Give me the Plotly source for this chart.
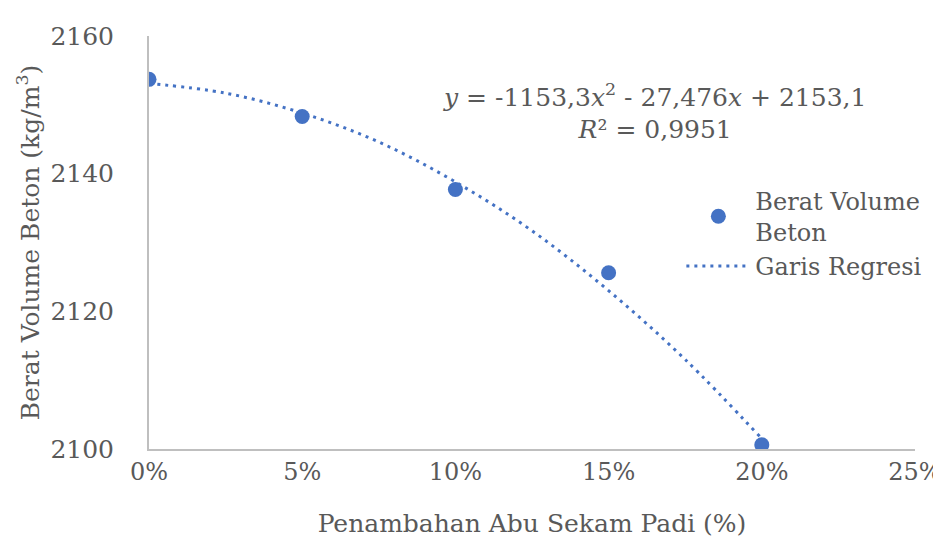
import plotly.graph_objects as go

# data
abu_sekam = [0.00, 0.05, 0.10, 0.15, 0.20]
berat_volume = [2153.7, 2148.3, 2137.7, 2125.6, 2100.6]

# trendline
reg_x = [0.0, 0.025, 0.05, 0.075, 0.10, 0.125, 0.15, 0.175, 0.20]
reg_y = [2153.1, 2151.7, 2148.8, 2144.6, 2138.8, 2131.7, 2123.0, 2113.0, 2101.5]

x_ticks = [0.0, 0.05, 0.10, 0.15, 0.20, 0.25]
x_labels = ["0%", "5%", "10%", "15%", "20%", "25%"]
y_ticks = [2100, 2120, 2140, 2160]

blue = "#4472C4"
gray = "#595959"
font = "DejaVu Serif"
fs = 25

fig = go.Figure()

fig.add_trace(go.Scatter(
    x=abu_sekam, y=berat_volume, mode="markers",
    name="Berat Volume<br>Beton",
    marker=dict(color=blue, size=15),
))

fig.add_trace(go.Scatter(
    x=reg_x, y=reg_y, mode="lines",
    name="Garis Regresi",
    line=dict(color=blue, width=3, dash="3px,5px", shape="spline"),
))

fig.add_annotation(
    x=0.165, y=2149.0, xref="x", yref="y",
    text="<i>y</i> = -1153,3<i>x</i><sup>2</sup> - 27,476<i>x</i> + 2153,1<br><i>R</i>² = 0,9951",
    showarrow=False, align="center",
    font=dict(family=font, size=25, color=gray),
)

fig.update_layout(
    width=941, height=538,
    margin=dict(l=141, r=34, t=28, b=97, autoexpand=False),
    paper_bgcolor="white", plot_bgcolor="white",
    font=dict(family=font, size=fs, color=gray),
    showlegend=True,
    legend=dict(
        x=0.695, y=0.655, xanchor="left", yanchor="top",
        bgcolor="rgba(0,0,0,0)", font=dict(family=font, size=24, color=gray),
        itemwidth=64,
    ),
)

fig.update_xaxes(
    range=[0, 0.25], tickvals=x_ticks, ticktext=x_labels,
    showgrid=False, zeroline=False,
    showline=True, linecolor="#BFBFBF", linewidth=2,
    ticks="", ticklen=0, ticklabelstandoff=0,
    tickfont=dict(family=font, size=24, color=gray),
    title=dict(text="Penambahan Abu Sekam Padi (%)", standoff=30,
               font=dict(family=font, size=fs, color=gray)),
)

fig.update_yaxes(
    range=[2100, 2160], tickvals=y_ticks,
    showgrid=False, zeroline=False,
    showline=True, linecolor="#BFBFBF", linewidth=2,
    ticks="", ticklen=0, ticklabelstandoff=28,
    tickfont=dict(family=font, size=fs, color=gray),
    title=dict(text="Berat Volume Beton (kg/m<sup>3</sup>)", standoff=4,
               font=dict(family=font, size=fs, color=gray)),
)

fig.write_html("out.html")
